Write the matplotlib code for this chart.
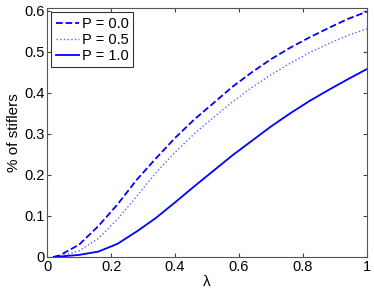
import matplotlib
matplotlib.use("Agg")
import matplotlib.pyplot as plt
import numpy as np

plt.rcParams["font.family"] = ["Liberation Sans", "DejaVu Sans"]

lam = [0.02, 0.04, 0.10, 0.16, 0.22, 0.28, 0.34, 0.40, 0.46, 0.52,
       0.58, 0.64, 0.70, 0.76, 0.82, 0.88, 0.94, 1.00]
p00 = [0.0, 0.004, 0.03, 0.075, 0.128, 0.188, 0.24, 0.29, 0.335, 0.375,
       0.415, 0.45, 0.482, 0.51, 0.535, 0.558, 0.58, 0.598]
p05 = [0.0, 0.001, 0.015, 0.045, 0.092, 0.148, 0.205, 0.255, 0.3, 0.34,
       0.378, 0.413, 0.444, 0.472, 0.498, 0.52, 0.54, 0.556]
p10 = [0.0, 0.001, 0.005, 0.013, 0.032, 0.062, 0.095, 0.133, 0.172, 0.21,
       0.248, 0.283, 0.318, 0.35, 0.38, 0.407, 0.433, 0.458]

fig = plt.figure(figsize=(3.74, 2.94), dpi=100)
ax = fig.add_axes([0.126, 0.126, 0.855, 0.847])

ax.plot(lam, p00, "--", color="#0000ff", lw=1.3, label="P = 0.0")
ax.plot(lam, p05, ":", color="#6060ff", lw=1.0, label="P = 0.5")
ax.plot(lam, p10, "-", color="#0000ff", lw=1.3, label="P = 1.0")

ax.set_xlim(0, 1)
ax.set_ylim(0, 0.607)
ax.set_xticks([0, 0.2, 0.4, 0.6, 0.8, 1])
ax.set_xticklabels(["0", "0.2", "0.4", "0.6", "0.8", "1"])
ax.set_yticks([0, 0.1, 0.2, 0.3, 0.4, 0.5, 0.6])
ax.set_yticklabels(["0", "0.1", "0.2", "0.3", "0.4", "0.5", "0.6"])
ax.tick_params(direction="in", top=True, right=True, length=3,
               labelsize=10.5, pad=2, color="#444444")
for s in ax.spines.values():
    s.set_color("#555555")
    s.set_linewidth(0.8)

ax.set_xlabel("λ", fontsize=11, labelpad=1)
ax.set_ylabel("% of stiflers", fontsize=11, labelpad=2)

leg = ax.legend(loc="upper left", fontsize=10.5, frameon=True, fancybox=False,
                handlelength=1.6, handletextpad=0.2, borderpad=0.3,
                labelspacing=0.15, borderaxespad=0.3)
leg.get_frame().set_edgecolor("black")
leg.get_frame().set_linewidth(0.8)

fig.savefig("out.png", dpi=100)
